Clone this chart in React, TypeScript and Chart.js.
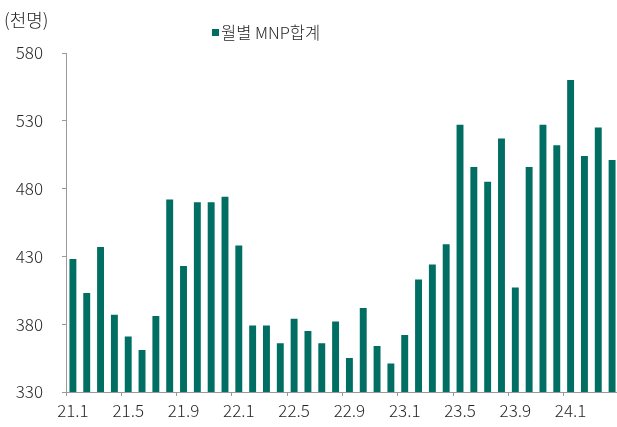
import React, { useEffect, useRef } from "react";
import { Chart, registerables } from "chart.js";

Chart.register(...registerables);

const categories: string[] = [
  "21.1", "21.2", "21.3", "21.4", "21.5", "21.6", "21.7", "21.8", "21.9", "21.10", "21.11", "21.12",
  "22.1", "22.2", "22.3", "22.4", "22.5", "22.6", "22.7", "22.8", "22.9", "22.10", "22.11", "22.12",
  "23.1", "23.2", "23.3", "23.4", "23.5", "23.6", "23.7", "23.8", "23.9", "23.10", "23.11", "23.12",
  "24.1", "24.2", "24.3", "24.4",
];

const mnpTotal: number[] = [
  428, 403, 437, 387, 371, 361, 386, 472, 423, 470, 470, 474,
  438, 379, 379, 366, 384, 375, 366, 382, 355, 392, 364, 351,
  372, 413, 424, 439, 527, 496, 485, 517, 407, 496, 527, 512,
  560, 504, 525, 501,
];

const seriesLabel = "월별 MNP합계";
const unitLabel = "(천명)";
const yMin = 330;
const yMax = 580;
const yStep = 50;

const BAR_COLOR = "#006E62";
const TEXT_COLOR = "#262626";
const AXIS_COLOR = "#9a9a9a";
const FONT = "'Noto Sans CJK KR', 'Noto Sans', sans-serif";
const WEIGHT = 300;

export default function App() {
  const canvasRef = useRef<HTMLCanvasElement | null>(null);

  useEffect(() => {
    if (!canvasRef.current) return;

    const textPlugin = {
      id: "customText",
      afterDraw(chart: any) {
        const ctx = chart.ctx;
        ctx.save();
        ctx.fillStyle = TEXT_COLOR;
        ctx.font = `${WEIGHT} 18px ${FONT}`;
        ctx.textBaseline = "middle";
        ctx.textAlign = "left";
        ctx.fillText(unitLabel, 4, 20);
        // legend
        ctx.fillStyle = BAR_COLOR;
        ctx.fillRect(212, 29, 7, 7);
        ctx.fillStyle = TEXT_COLOR;
        ctx.font = `${WEIGHT} 16.5px ${FONT}`;
        ctx.fillText(seriesLabel, 221, 33);
        ctx.restore();
      },
    };

    const chart = new Chart(canvasRef.current, {
      type: "bar",
      data: {
        labels: categories,
        datasets: [
          {
            label: seriesLabel,
            data: mnpTotal,
            backgroundColor: BAR_COLOR,
            borderWidth: 0,
            barPercentage: 0.5,
            categoryPercentage: 1,
          },
        ],
      },
      options: {
        animation: false,
        responsive: true,
        maintainAspectRatio: false,
        layout: { padding: { top: 53, left: 0, right: 0, bottom: 0 } },
        plugins: {
          legend: { display: false },
          tooltip: { enabled: false },
          title: { display: false },
        },
        scales: {
          x: {
            type: "category",
            offset: true,
            grid: {
              offset: true,
              drawOnChartArea: false,
              drawTicks: true,
              tickLength: 4,
              tickColor: (c: any) => (c.index % 4 === 0 ? AXIS_COLOR : "rgba(0,0,0,0)"),
            },
            border: { display: true, color: AXIS_COLOR, width: 1 },
            ticks: {
              autoSkip: false,
              maxRotation: 0,
              minRotation: 0,
              padding: 4,
              color: TEXT_COLOR,
              font: { family: FONT, size: 17, weight: WEIGHT },
              callback: (_v: any, i: number) => (i % 4 === 0 ? categories[i] : ""),
            },
            afterFit: (s: any) => {
              s.height = 35;
            },
          },
          y: {
            min: yMin,
            max: yMax,
            grid: {
              drawOnChartArea: false,
              drawTicks: true,
              tickLength: 4,
              tickColor: AXIS_COLOR,
            },
            border: { display: true, color: AXIS_COLOR, width: 1 },
            ticks: {
              stepSize: yStep,
              padding: 19,
              color: TEXT_COLOR,
              font: { family: FONT, size: 17, weight: WEIGHT },
            },
            afterFit: (s: any) => {
              s.width = 66;
            },
          },
        },
      },
      plugins: [textPlugin],
    });

    return () => chart.destroy();
  }, []);

  return (
    <div
      style={{
        position: "fixed",
        left: 0,
        top: 0,
        width: 617,
        height: 427,
        overflow: "hidden",
        background: "#ffffff",
      }}
    >
      <div style={{ position: "relative", width: 619, height: 427 }}>
        <canvas ref={canvasRef} />
      </div>
    </div>
  );
}
